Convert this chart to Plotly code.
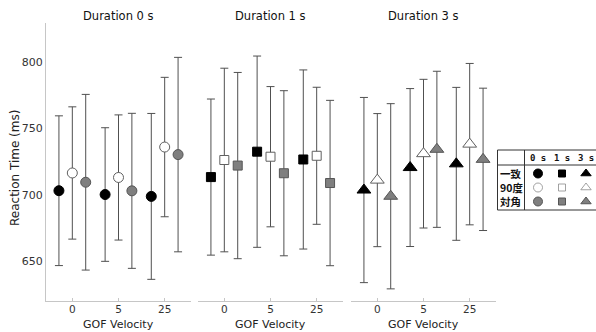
import plotly.graph_objects as go

# ---------------- data ----------------
velocities = ['0', '5', '25']
durations = ['Duration 0 s', 'Duration 1 s', 'Duration 3 s']
duration_short = ['0 s', '1 s', '3 s']
conditions = ['一致', '90度', '対角']

# Duration 0 s
d0_congruent = [703.0, 700.1, 698.7]
d0_congruent_err = [56.6, 50.5, 62.7]
d0_orth = [716.4, 713.0, 736.0]
d0_orth_err = [50.0, 47.3, 52.7]
d0_diag = [709.4, 702.9, 730.3]
d0_diag_err = [66.4, 58.6, 73.5]

# Duration 1 s
d1_congruent = [713.3, 732.5, 726.6]
d1_congruent_err = [59.0, 72.3, 67.7]
d1_orth = [726.2, 728.7, 729.4]
d1_orth_err = [69.4, 53.0, 51.8]
d1_diag = [722.0, 716.2, 708.8]
d1_diag_err = [70.4, 62.4, 62.5]

# Duration 3 s
d3_congruent = [703.5, 720.5, 723.3]
d3_congruent_err = [70.0, 59.7, 57.8]
d3_orth = [711.0, 731.0, 738.2]
d3_orth_err = [50.3, 56.2, 61.0]
d3_diag = [698.8, 734.3, 726.7]
d3_diag_err = [70.0, 59.0, 53.8]

y_ticks = [650, 700, 750, 800]

# ---------------- styling ----------------
W, H = 596, 332
def fx(p):
    return p / W
def fy(p):
    return 1 - p / H

panel_px = [(46, 191), (198, 343), (351, 496)]
plot_top, plot_bottom = 22.7, 300.5
symbols = ['circle', 'square', 'triangle-up']
sizes = [10, 9, 12]
fills = ['#000000', '#ffffff', '#7f7f7f']
edges = ['#000000', '#606060', '#555555']
offsets = [-0.29, 0.0, 0.29]
err_color = '#505050'
axis_color = '#c6c6c6'
font_main = 'DejaVu Sans'

panels = [
    [(d0_congruent, d0_congruent_err), (d0_orth, d0_orth_err), (d0_diag, d0_diag_err)],
    [(d1_congruent, d1_congruent_err), (d1_orth, d1_orth_err), (d1_diag, d1_diag_err)],
    [(d3_congruent, d3_congruent_err), (d3_orth, d3_orth_err), (d3_diag, d3_diag_err)],
]

fig = go.Figure()

for p, series in enumerate(panels):
    xa = 'x' if p == 0 else f'x{p+1}'
    ya = 'y' if p == 0 else f'y{p+1}'
    for c, (vals, errs) in enumerate(series):
        xs = [i + offsets[c] for i in range(len(velocities))]
        fig.add_trace(go.Scatter(
            x=xs, y=vals, mode='markers', xaxis=xa, yaxis=ya,
            name=f'{duration_short[p]} {conditions[c]}', showlegend=False,
            error_y=dict(type='data', array=errs, visible=True,
                         color=err_color, thickness=1, width=4),
            marker=dict(symbol=symbols[p], size=sizes[p], color=fills[c],
                        line=dict(color=edges[c], width=1)),
            cliponaxis=False,
        ))

ydom = [fy(plot_bottom), fy(plot_top)]
layout = dict(
    width=W, height=H,
    margin=dict(l=0, r=0, t=0, b=0),
    paper_bgcolor='white', plot_bgcolor='white',
    font=dict(family=font_main, color='#222222'),
    showlegend=False,
)

for p, (x0, x1) in enumerate(panel_px):
    kx = 'xaxis' if p == 0 else f'xaxis{p+1}'
    ky = 'yaxis' if p == 0 else f'yaxis{p+1}'
    ya = 'y' if p == 0 else f'y{p+1}'
    xa = 'x' if p == 0 else f'x{p+1}'
    layout[kx] = dict(
        domain=[fx(x0), fx(x1)], anchor=ya, range=[-0.57, 2.57],
        tickvals=[0, 1, 2], ticktext=velocities,
        showline=True, linecolor=axis_color, linewidth=1,
        ticks='inside', ticklen=3, tickcolor=axis_color,
        ticklabelstandoff=-1,
        showgrid=False, zeroline=False,
        tickfont=dict(size=10.5, color='#333333', family=font_main),
    )
    layout[ky] = dict(
        domain=ydom, anchor=xa, range=[620, 830],
        tickvals=y_ticks, showgrid=False, zeroline=False,
        showline=(p == 0), linecolor=axis_color, linewidth=1,
        showticklabels=(p == 0), ticks='',
        tickfont=dict(size=11, color='#333333', family=font_main),
    )
    if p > 0:
        layout[ky]['matches'] = 'y'

# legend table axis (pixel-like coordinates)
layout['xaxis4'] = dict(domain=[fx(497), 1.0], range=[0, 99], visible=False,
                        anchor='y4', fixedrange=True)
layout['yaxis4'] = dict(domain=[fy(211), fy(149)], range=[62, 0], visible=False,
                        anchor='x4', fixedrange=True)

fig.update_layout(**layout)

annotations = []
for p, (x0, x1) in enumerate(panel_px):
    cx = fx((x0 + x1) / 2)
    annotations.append(dict(text=durations[p], x=cx, y=fy(16), xref='paper', yref='paper',
                            showarrow=False, xanchor='center', yanchor='middle',
                            font=dict(size=11.5, color='#111111', family=font_main)))
    annotations.append(dict(text='GOF Velocity', x=cx, y=fy(324), xref='paper', yref='paper',
                            showarrow=False, xanchor='center', yanchor='middle',
                            font=dict(size=11, color='#222222', family=font_main)))
annotations.append(dict(text='Reaction Time (ms)', x=fx(15), y=fy(168), xref='paper', yref='paper',
                        showarrow=False, textangle=-90, xanchor='center', yanchor='middle',
                        font=dict(size=12, color='#222222', family=font_main)))

# legend table
col_x = [41, 65, 89]
row_y = [24.5, 38.5, 52.5]
header_y = 8.5
for j, lab in enumerate(duration_short):
    annotations.append(dict(text=f'<b>{lab}</b>', x=col_x[j], y=header_y, xref='x4', yref='y4',
                            showarrow=False, xanchor='center', yanchor='middle',
                            font=dict(size=9, color='#111111', family='DejaVu Sans Mono')))
for i, lab in enumerate(conditions):
    annotations.append(dict(text=f'<b>{lab}</b>', x=1, y=row_y[i], xref='x4', yref='y4',
                            showarrow=False, xanchor='left', yanchor='middle',
                            font=dict(size=10.5, color='#111111', family='Noto Sans CJK JP')))
fig.update_layout(annotations=annotations)

leg_sizes = [9, 7, 9]
for i in range(len(conditions)):
    for j in range(len(duration_short)):
        fig.add_trace(go.Scatter(
            x=[col_x[j]], y=[row_y[i]], xaxis='x4', yaxis='y4', mode='markers',
            showlegend=False, hoverinfo='skip', cliponaxis=False,
            marker=dict(symbol=symbols[j], size=leg_sizes[j],
                        color=fills[i] if i != 1 else '#ffffff',
                        line=dict(color=edges[i] if i != 1 else '#8a8a8a', width=1 if i != 1 else 0.8)),
        ))

line_style = dict(color='#333333', width=1)
shapes = [
    dict(type='line', xref='x4', yref='y4', x0=0.5, x1=102, y0=1, y1=1, line=line_style),
    dict(type='line', xref='x4', yref='y4', x0=0.5, x1=102, y0=61, y1=61, line=line_style),
    dict(type='line', xref='x4', yref='y4', x0=0.5, x1=0.5, y0=1, y1=61, line=line_style),
    dict(type='line', xref='x4', yref='y4', x0=0.5, x1=102, y0=16, y1=16, line=line_style),
    dict(type='line', xref='x4', yref='y4', x0=27.5, x1=27.5, y0=1, y1=61, line=line_style),
]
fig.update_layout(shapes=shapes)

fig.write_html('out.html', config={'displayModeBar': False},
               post_script="document.body.style.margin='0px';")
